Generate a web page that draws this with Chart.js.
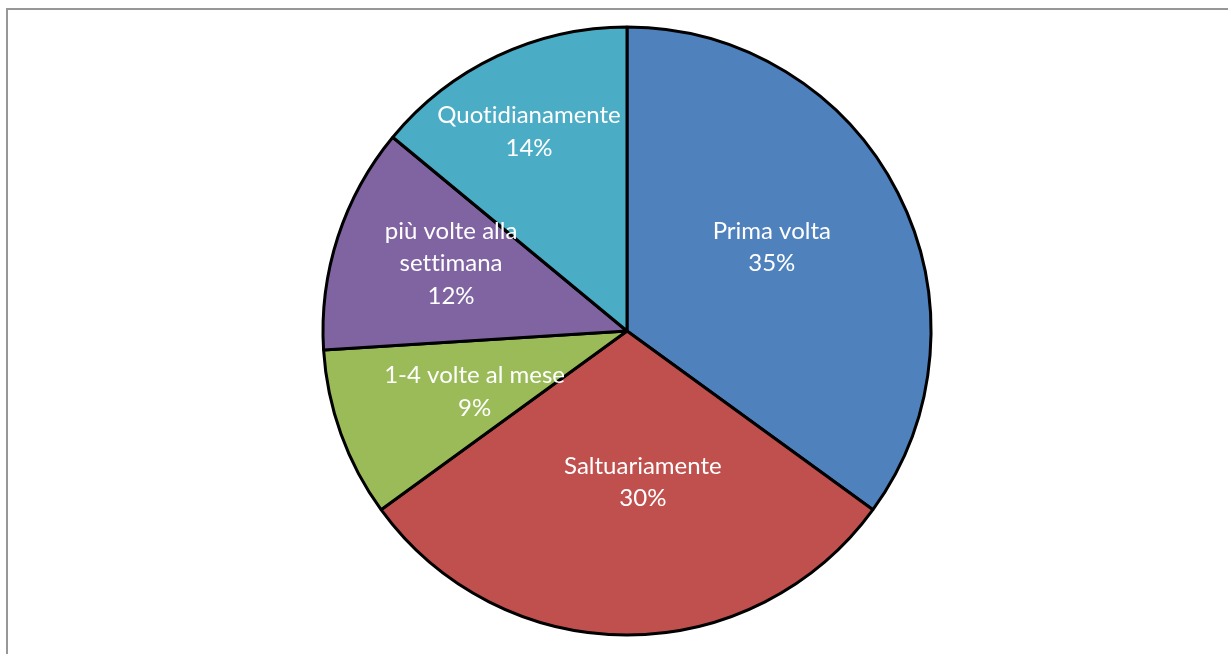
<!DOCTYPE html>
<html>
<head>
<meta charset="utf-8">
<script src="https://cdn.jsdelivr.net/npm/chart.js@4.4.1/dist/chart.umd.min.js"></script>
<style>
  html, body { margin: 0; padding: 0; background: #ffffff; overflow: hidden; }
  #wrap { position: relative; width: 1228px; height: 654px; }
  #frame {
    position: absolute; left: 6px; top: 8px; width: 1240px; height: 660px;
    border-left: 2px solid #979797; border-top: 2px solid #979797;
    box-sizing: border-box; pointer-events: none;
  }
  canvas { position: absolute; left: 0; top: 0; }
</style>
</head>
<body>
<div id="wrap">
  <div id="frame"></div>
  <canvas id="chart" width="1228" height="654"></canvas>
</div>
<script>
// Frequenza di utilizzo (percentuali)
const categories = [
  ['Prima volta'],
  ['Saltuariamente'],
  ['1-4 volte al mese'],
  ['più volte alla', 'settimana'],
  ['Quotidianamente']
];
const values = [35, 30, 9, 12, 14];
const colors = ['#4F81BD', '#C0504D', '#9BBB59', '#8064A2', '#4BACC6'];

// label placement: fraction of the radius, and angular nudge in degrees
const labelRadius = [0.55, 0.50, 0.54, 0.62, 0.73];
const labelNudge = [-3, -6, -2, 3, -1];

const sliceLabels = {
  id: 'sliceLabels',
  afterDatasetsDraw(chart) {
    const ctx = chart.ctx;
    const meta = chart.getDatasetMeta(0);
    const total = values.reduce((a, b) => a + b, 0);
    ctx.save();
    ctx.fillStyle = '#ffffff';
    ctx.font = '24px Lato';
    ctx.textRendering = 'optimizeSpeed';
    ctx.textAlign = 'center';
    ctx.textBaseline = 'middle';
    const lineH = 32.5;
    meta.data.forEach((arc, i) => {
      const p = arc.getProps(['x', 'y', 'startAngle', 'endAngle', 'outerRadius'], true);
      const mid = (p.startAngle + p.endAngle) / 2 + labelNudge[i] * Math.PI / 180;
      const r = p.outerRadius * labelRadius[i];
      const cx = p.x + Math.cos(mid) * r;
      const cy = p.y + Math.sin(mid) * r;
      const lines = categories[i].concat([Math.round(values[i] / total * 100) + '%']);
      const y0 = cy - (lines.length - 1) * lineH / 2;
      lines.forEach((t, k) => ctx.fillText(t, cx, y0 + k * lineH));
    });
    ctx.restore();
  }
};

new Chart(document.getElementById('chart'), {
  type: 'pie',
  data: {
    labels: categories.map(c => c.join(' ')),
    datasets: [{
      data: values,
      backgroundColor: colors,
      borderColor: '#000000',
      borderWidth: 3
    }]
  },
  options: {
    responsive: false,
    animation: false,
    radius: 304,
    layout: { padding: { left: 26, right: 0, top: 8, bottom: 0 } },
    plugins: {
      legend: { display: false },
      tooltip: { enabled: false }
    }
  },
  plugins: [sliceLabels]
});
</script>
</body>
</html>
